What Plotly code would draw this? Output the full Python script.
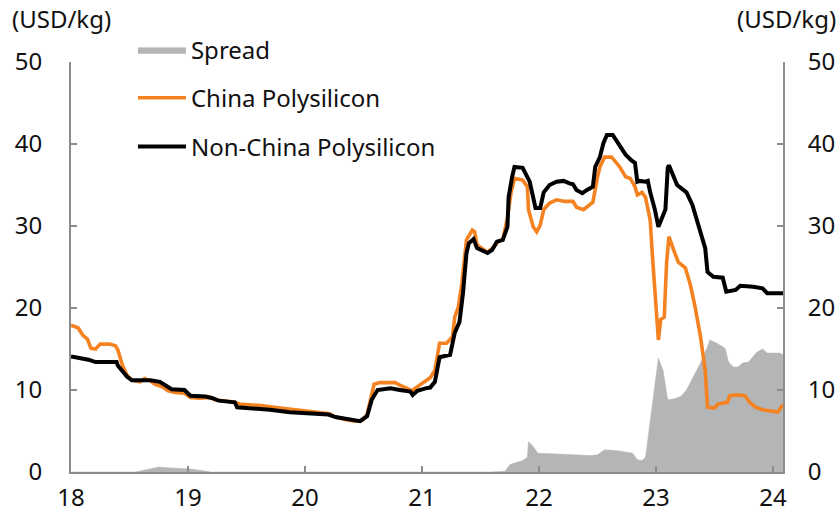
import plotly.graph_objects as go

# ---- data (decimal years, USD/kg) ----
china_x = [18.00, 18.06, 18.10, 18.14, 18.17, 18.21, 18.25, 18.33, 18.38, 18.40, 18.44, 18.48, 18.52, 18.59, 18.63,
           18.68, 18.72, 18.78, 18.83, 18.89, 18.97, 19.02, 19.10, 19.19, 19.23, 19.32, 19.40, 19.44, 19.62, 19.79,
           19.96, 20.13, 20.21, 20.26, 20.34, 20.43, 20.49, 20.53, 20.56, 20.59, 20.64, 20.77, 20.81, 20.90, 20.92,
           20.94, 20.98, 21.03, 21.07, 21.11, 21.15, 21.21, 21.26, 21.28, 21.31, 21.34, 21.38, 21.43, 21.45, 21.47,
           21.50, 21.56, 21.61, 21.65, 21.69, 21.73, 21.76, 21.79, 21.86, 21.90, 21.91, 21.95, 21.98, 22.01, 22.04,
           22.09, 22.15, 22.22, 22.29, 22.32, 22.38, 22.42, 22.46, 22.50, 22.52, 22.56, 22.62, 22.69, 22.74, 22.78,
           22.82, 22.84, 22.88, 22.91, 22.95, 22.97, 23.00, 23.02, 23.04, 23.07, 23.09, 23.11, 23.15, 23.19, 23.25,
           23.29, 23.33, 23.38, 23.42, 23.44, 23.50, 23.53, 23.61, 23.63, 23.69, 23.76, 23.80, 23.85, 23.91, 24.04,
           24.085]
china_y = [17.9, 17.6, 16.7, 16.2, 15.1, 15.0, 15.6, 15.6, 15.4, 14.9, 13.0, 11.8, 11.2, 11.0, 11.4,
           11.1, 10.7, 10.4, 9.9, 9.7, 9.6, 9.1, 9.0, 9.1, 8.8, 8.6, 8.5, 8.3, 8.1, 7.8,
           7.5, 7.2, 7.1, 6.7, 6.4, 6.2, 6.3, 7.0, 8.8, 10.7, 10.9, 10.9, 10.6, 10.1, 9.9,
           10.2, 10.6, 11.1, 11.5, 12.4, 15.7, 15.7, 16.5, 18.9, 20.1, 23.0, 28.3, 29.5, 29.3, 27.7,
           27.4, 26.8, 27.4, 28.1, 28.3, 31.0, 34.0, 35.8, 35.6, 34.8, 32.0, 29.9, 29.3, 30.1, 32.0,
           32.8, 33.2, 33.0, 33.0, 32.3, 32.0, 32.4, 32.9, 36.0, 37.2, 38.4, 38.4, 37.2, 36.0, 35.8,
           34.8, 33.8, 34.1, 33.5, 30.7, 26.2, 20.1, 16.1, 18.6, 18.9, 25.5, 28.7, 27.1, 25.6, 24.9,
           23.0, 20.4, 16.5, 12.4, 7.9, 7.8, 8.3, 8.5, 9.3, 9.4, 9.3, 8.5, 7.9, 7.6, 7.3,
           8.2]

nonchina_x = [18.00, 18.08, 18.15, 18.21, 18.33, 18.39, 18.40, 18.44, 18.48, 18.52, 18.57, 18.61, 18.68, 18.76,
              18.80, 18.86, 18.97, 19.02, 19.15, 19.21, 19.26, 19.40, 19.42, 19.62, 19.70, 19.87, 19.96, 20.13,
              20.20, 20.26, 20.34, 20.43, 20.47, 20.53, 20.57, 20.62, 20.73, 20.81, 20.90, 20.92, 20.96, 21.03,
              21.07, 21.11, 21.15, 21.24, 21.28, 21.32, 21.35, 21.38, 21.40, 21.44, 21.47, 21.56, 21.60, 21.64,
              21.69, 21.73, 21.74, 21.77, 21.79, 21.86, 21.92, 21.97, 22.01, 22.04, 22.09, 22.15, 22.21, 22.26,
              22.29, 22.32, 22.37, 22.41, 22.46, 22.48, 22.52, 22.55, 22.58, 22.63, 22.68, 22.74, 22.79, 22.82,
              22.84, 22.86, 22.91, 22.93, 22.95, 22.99, 23.02, 23.06, 23.08, 23.10, 23.11, 23.18, 23.26, 23.31,
              23.35, 23.38, 23.42, 23.44, 23.49, 23.57, 23.60, 23.68, 23.72, 23.83, 23.91, 23.95, 24.085]
nonchina_y = [14.1, 13.9, 13.7, 13.4, 13.4, 13.4, 13.0, 12.2, 11.6, 11.2, 11.2, 11.3, 11.2, 11.0,
              10.6, 10.1, 10.0, 9.3, 9.2, 9.0, 8.7, 8.5, 7.9, 7.7, 7.6, 7.3, 7.2, 7.1,
              7.0, 6.7, 6.5, 6.3, 6.2, 6.8, 8.8, 10.0, 10.2, 10.0, 9.8, 9.4, 9.9, 10.2,
              10.3, 11.0, 14.0, 14.3, 17.0, 18.3, 21.8, 26.7, 27.9, 28.4, 27.3, 26.7, 27.1, 28.1,
              28.3, 29.9, 33.5, 36.0, 37.2, 37.1, 35.4, 32.2, 32.2, 34.1, 35.0, 35.4, 35.5, 35.2,
              35.1, 34.4, 34.0, 34.4, 34.8, 37.2, 38.4, 40.1, 41.1, 41.1, 40.1, 38.7, 38.0, 37.7,
              35.4, 35.5, 35.4, 35.5, 34.1, 32.0, 29.9, 31.3, 32.0, 37.1, 37.4, 35.0, 34.1, 32.6,
              30.7, 29.5, 27.3, 24.4, 23.8, 23.7, 22.0, 22.2, 22.7, 22.6, 22.4, 21.8, 21.8]

spread_x = [18.00, 18.55, 18.62, 18.75, 18.85, 19.00, 19.10, 19.20, 21.58, 21.71, 21.75, 21.81, 21.86, 21.90,
            21.91, 21.95, 21.99, 22.15, 22.44, 22.50, 22.56, 22.67, 22.80, 22.84, 22.88, 22.91, 22.95, 22.99,
            23.02, 23.06, 23.10, 23.15, 23.21, 23.26, 23.32, 23.38, 23.44, 23.46, 23.52, 23.59, 23.62, 23.66,
            23.70, 23.74, 23.79, 23.86, 23.91, 23.95, 24.06, 24.085]
spread_y = [0.0, 0.0, 0.2, 0.6, 0.5, 0.4, 0.2, 0.0, 0.0, 0.1, 0.9, 1.2, 1.4, 1.8,
            3.7, 3.1, 2.3, 2.2, 2.0, 2.1, 2.7, 2.6, 2.3, 1.5, 1.4, 1.8, 6.3, 11.2,
            13.9, 12.4, 8.8, 8.9, 9.2, 10.0, 11.6, 13.3, 15.3, 16.1, 15.7, 15.1, 13.4, 12.8,
            12.8, 13.3, 13.4, 14.6, 15.0, 14.5, 14.5, 14.3]

tick_vals = [18, 19, 20, 21, 22, 23, 24]
tick_text = ["18", "19", "20", "21", "22", "23", "24"]
y_ticks = [0, 10, 20, 30, 40, 50]

FONT = "Noto Sans"
AXC = "#8c8c8c"
TXT = "#111111"

fig = go.Figure()
fig.add_trace(go.Scatter(x=spread_x, y=spread_y, name="Spread", mode="lines",
                         line=dict(width=0.5, color="#b4b5b7"), fill="tozeroy",
                         fillcolor="#b4b5b7", legend="legend", showlegend=True, yaxis="y"))
fig.add_trace(go.Scatter(x=china_x, y=china_y, name="China Polysilicon", mode="lines",
                         line=dict(width=3.6, color="#f58220"), legend="legend2", yaxis="y2"))
fig.add_trace(go.Scatter(x=nonchina_x, y=nonchina_y, name="Non-China Polysilicon", mode="lines",
                         line=dict(width=4, color="#000000"), legend="legend3", yaxis="y2"))

axis_common = dict(range=[0, 50], tickvals=y_ticks, showgrid=False, zeroline=False,
                   showline=True, linecolor=AXC, linewidth=2, ticks="inside", ticklen=6,
                   tickcolor=AXC, tickwidth=1.5, tickfont=dict(size=24, color=TXT, family=FONT))

legend_common = dict(bgcolor="rgba(0,0,0,0)", font=dict(size=24, family=FONT, color=TXT),
                     xanchor="left", yanchor="middle", itemwidth=48, x=0.087)

fig.update_layout(
    width=840, height=512,
    showlegend=True,
    margin=dict(l=71, r=57, t=62, b=40, autoexpand=False),
    plot_bgcolor="white", paper_bgcolor="white",
    font=dict(family=FONT),
    xaxis=dict(range=[18, 24.085], tickvals=tick_vals, ticktext=tick_text, showgrid=False,
               zeroline=False, showline=True, linecolor=AXC, linewidth=2, ticks="inside",
               ticklen=6, tickcolor=AXC, tickwidth=1.5, ticklabelstandoff=3,
               tickfont=dict(size=24, color=TXT, family=FONT)),
    yaxis=dict(side="left", ticklabelstandoff=22, **axis_common),
    yaxis2=dict(side="right", overlaying="y", ticklabelstandoff=18, **axis_common),
    legend=dict(y=1.029, **legend_common),
    legend2=dict(y=0.912, **legend_common),
    legend3=dict(y=0.793, **legend_common),
    annotations=[
        dict(text="(USD/kg)", xref="paper", yref="paper", x=-0.086, y=1.107, xanchor="left",
             yanchor="middle", showarrow=False, font=dict(size=24, family=FONT, color=TXT)),
        dict(text="(USD/kg)", xref="paper", yref="paper", x=1.077, y=1.107, xanchor="right",
             yanchor="middle", showarrow=False, font=dict(size=24, family=FONT, color=TXT)),
    ],
)

# remove the default page margin so the 840x512 figure fills the window exactly
fig.write_html("out.html", config={"displayModeBar": False},
               post_script="document.body.style.margin='0';document.body.style.overflow='hidden';")
